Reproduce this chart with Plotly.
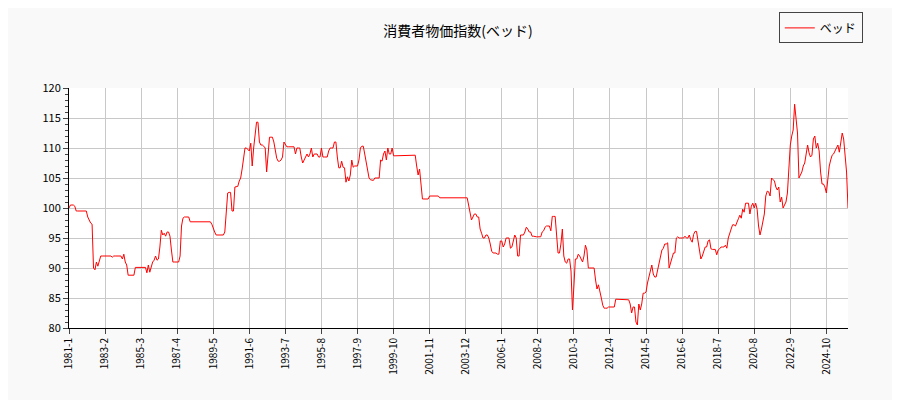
import plotly.graph_objects as go

values_by_year = {
    1981: [100, 100.5, 100.5, 100.5, 100.3, 99.5, 99.5, 99.5, 99.5, 99.5, 99.5, 99.5],
    1982: [99.5, 98.5, 98, 97.5, 97.3, 90, 89.7, 91, 90.3, 91, 92, 92],
    1983: [92, 92, 92, 92, 92, 92, 91.8, 92, 92, 92, 92, 92],
    1984: [92, 91.5, 92.3, 91, 90.5, 88.8, 88.8, 88.8, 88.8, 88.8, 90.1, 90.1],
    1985: [90.1, 90.1, 90.1, 90.1, 90.1, 90.1, 89.2, 90.5, 89.3, 90, 91, 91.3],
    1986: [92, 91.3, 91.5, 93.5, 96.3, 95.5, 95.8, 95.3, 96, 96, 95.3, 93],
    1987: [91, 91, 91, 91, 91, 92, 97, 98.3, 98.5, 98.5, 98.5, 98.5],
    1988: [97.7] * 12,
    1989: [97.7, 97.7, 97.7, 97.3, 96.5, 96, 95.5, 95.5, 95.5, 95.5, 95.5, 95.5],
    1990: [96, 99, 102.5, 102.6, 102.6, 99.5, 99.5, 103.5, 103.6, 103.6, 104.5, 105],
    1991: [106.5, 108, 110, 110, 109.8, 109.5, 110.8, 107, 110, 112.5, 114.3, 114.3],
    1992: [111, 110.5, 110.5, 110.3, 110, 106, 109.5, 111.8, 111.8, 111.8, 111, 109.5],
    1993: [108.3, 107.8, 107.8, 108, 108.5, 111, 110.6, 110.2, 110.2, 110.2, 110.2, 110.2],
    1994: [110.2, 109, 110, 110, 110, 108.5, 107.5, 108, 108.5, 109, 108.5, 109],
    1995: [110, 108.5, 109, 109, 109, 108.5, 108.5, 110, 108.5, 108.5, 108.5, 108.5],
    1996: [109.5, 110, 110, 110, 111, 111, 108.5, 106.7, 106.7, 107.8, 106.8, 106.7],
    1997: [104.3, 105.2, 104.5, 105.5, 108, 106.8, 107, 107, 107, 108, 110, 110.3],
    1998: [110.3, 109, 107.5, 106.5, 105, 104.7, 104.6, 104.6, 105, 105, 105, 105],
    1999: [108, 107.8, 109, 109.5, 108, 110, 109, 109, 110, 108.7, 108.7, 108.7],
    2000: [108.7] * 8 + [108.8] * 4,
    2001: [108.8, 107, 105.5, 106.5, 104.5, 101.5, 101.5, 101.5, 101.5, 101.5, 102, 102],
    2002: [102, 102, 102, 102, 102, 101.7, 101.7, 101.7, 101.7, 101.7, 101.7, 101.7],
    2003: [101.7] * 12,
    2004: [101.7, 100.5, 99.5, 98, 98.5, 99, 99, 98.5, 98.5, 96.5, 95.8, 95],
    2005: [95, 95.5, 95.5, 95, 94, 92.8, 92.5, 92.5, 92.5, 92.3, 92.3, 94.5],
    2006: [94.5, 93.5, 94, 95, 95, 95, 93.3, 93.5, 94.5, 95.5, 95, 92],
    2007: [92, 95.5, 95.5, 95.5, 96, 96.8, 96.5, 96, 96, 95.3, 95.3, 95.2],
    2008: [95.2, 95.2, 95.2, 95.2, 96, 96.2, 96.8, 97, 97, 97, 96.2, 98.6],
    2009: [98.6, 98.6, 95.5, 92.5, 92.5, 94, 96.5, 92, 91, 90.8, 91.5, 91.5],
    2010: [89.5, 83, 87, 91.5, 91.5, 92.3, 92, 91.5, 91, 92, 93.8, 93],
    2011: [90, 90, 90, 90, 90, 88, 86.5, 87.2, 85.8, 85, 83.8, 83.3],
    2012: [83.3, 83.3, 83.5, 83.5, 83.5, 83.5, 83.5, 84.8, 84.8, 84.8, 84.8, 84.8],
    2013: [84.8, 84.8, 84.8, 84.8, 84.7, 84, 82.5, 83.5, 83.5, 81, 80.5, 84],
    2014: [83, 84, 85.8, 85.8, 86, 87.5, 88.5, 89.2, 90.5, 89, 88.5, 88.5],
    2015: [89.5, 90.7, 91.5, 93, 93.3, 94, 94, 94.2, 90, 91, 91.5, 92.5],
    2016: [92.5, 95, 95.2, 95, 95, 95, 95, 95.3, 95, 95, 95.5, 94.7],
    2017: [94.3, 95.6, 96.1, 96.1, 94.5, 93, 91.5, 92, 93, 93.5, 93.5, 94.5],
    2018: [94.7, 93.2, 93.1, 93.1, 93.1, 92.2, 93, 93.2, 93.5, 93.5, 93.5, 93.8],
    2019: [93.3, 95, 96, 96.5, 97.2, 97.2, 97, 97.8, 98.2, 98.8, 98.3, 99.8],
    2020: [99.3, 100.8, 100.8, 100.8, 99, 100.3, 100.8, 100, 100.8, 99.8, 97, 95.5],
    2021: [96.5, 98, 99, 102, 102.8, 102.7, 102, 105, 104.8, 104.5, 103.5, 103],
    2022: [103.5, 101, 101.8, 100, 100.5, 101, 102.5, 107, 110.5, 112, 113, 117.3],
    2023: [115, 112.5, 105, 105.5, 106, 107, 107.5, 109, 110.5, 109.2, 108.5, 108.8],
    2024: [111.5, 112, 110, 110.8, 109.5, 106, 104, 104, 103.5, 102.5, 105.5, 107],
    2025: [108, 108.8, 109, 109.5, 110, 110.5, 109.3, 111, 112.5, 111.5, 108, 106],
    2026: [100],
}

tick_labels = ["1981-1", "1983-2", "1985-3", "1987-4", "1989-5", "1991-6", "1993-7",
               "1995-8", "1997-9", "1999-10", "2001-11", "2003-12", "2006-1", "2008-2",
               "2010-3", "2012-4", "2014-5", "2016-6", "2018-7", "2020-8", "2022-9", "2024-10"]

months, values = [], []
for y, vals in values_by_year.items():
    for m, v in enumerate(vals, start=1):
        months.append(f"{y}-{m}")
        values.append(v)
idx = list(range(len(values)))
tickvals = [months.index(t) for t in tick_labels]

fig = go.Figure(go.Scatter(x=idx, y=values, mode="lines", name="ベッド",
                           line=dict(color="#ff0000", width=1)))
font = "Noto Sans CJK JP, DejaVu Sans, sans-serif"
fig.update_layout(
    width=900, height=400, paper_bgcolor="#f9f9f9", plot_bgcolor="#ffffff",
    margin=dict(l=61, r=60, t=80, b=80, autoexpand=False),
    title=dict(text="消費者物価指数(ベッド)", x=0.5, xanchor="center", y=0.955,
               font=dict(family=font, size=14, color="#000")),
    font=dict(family=font, size=11, color="#000"),
    showlegend=True,
    legend=dict(x=1.019, y=1.315, xanchor="right", yanchor="top", bgcolor="#f9f9f9",
                bordercolor="#444", borderwidth=1, font=dict(size=12),
                tracegroupgap=0, itemwidth=30),
)
fig.update_xaxes(range=[0, len(values) - 1], tickvals=tickvals, ticktext=tick_labels,
                 tickangle=-90, showgrid=True, gridcolor="#c8c8c8", ticks="outside",
                 showline=True, linecolor="#000", zeroline=False, tickfont=dict(size=10))
fig.update_yaxes(range=[80, 120], dtick=5, showgrid=True, gridcolor="#c8c8c8",
                 ticks="outside", showline=True, linecolor="#000", zeroline=False,
                 minor=dict(dtick=1, ticks="outside", ticklen=3, showgrid=False),
                 tickfont=dict(size=11))
fig.write_html("out.html")
